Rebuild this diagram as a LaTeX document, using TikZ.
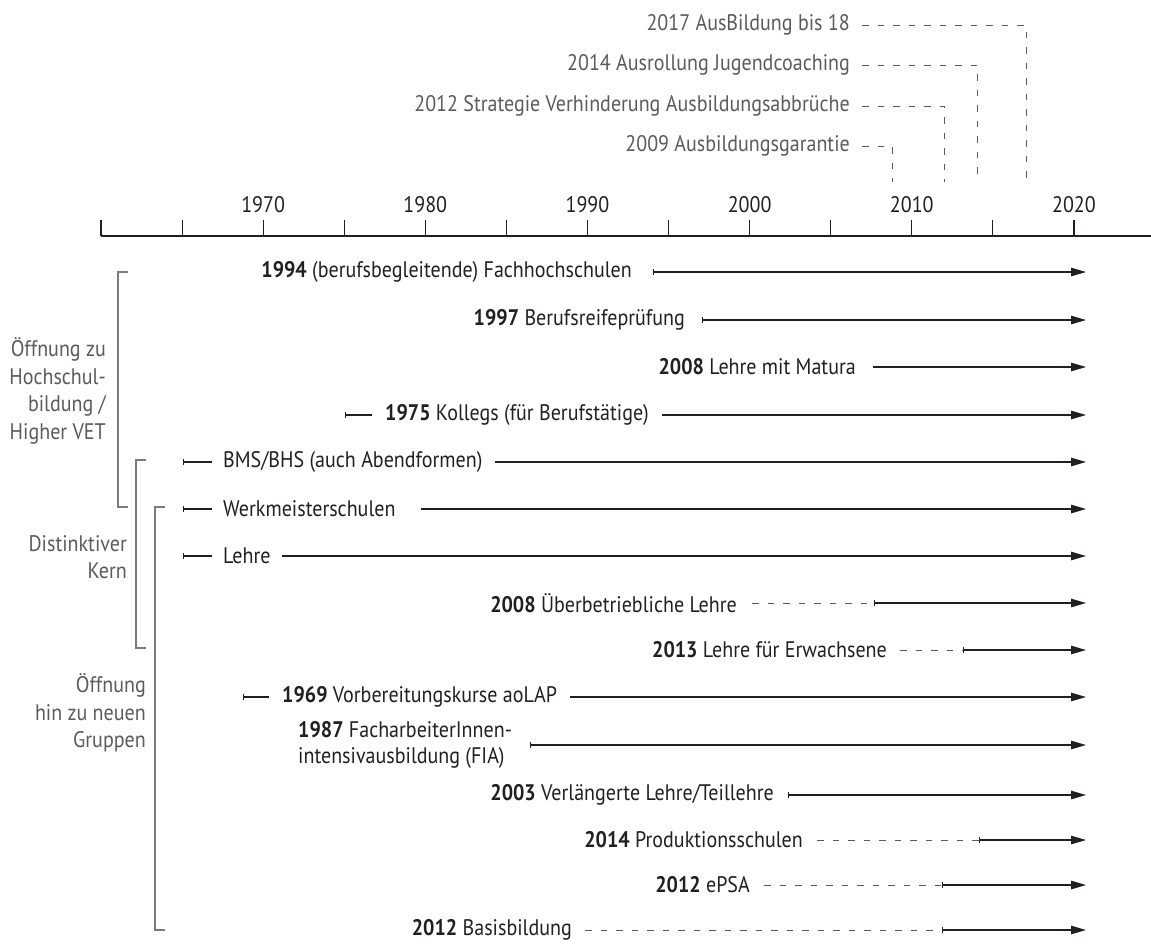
\documentclass[tikz,border=0pt]{standalone}
\usepackage{fontspec}
\setmainfont{PT Sans}[FakeStretch=0.89]
\usetikzlibrary{arrows.meta}
\definecolor{txt}{HTML}{231F20}
\definecolor{gry}{HTML}{5A5B5D}
\definecolor{brk}{HTML}{7A7B7D}
\begin{document}
\begin{tikzpicture}[x=1pt,y=-1pt,
  font=\fontsize{22.5}{26}\selectfont,
  lbl/.style={inner sep=0pt, text=txt},
  glbl/.style={inner sep=0pt, text=gry},
  blbl/.style={inner sep=0pt, text=gry, align=right, anchor=east, font=\fontsize{22.5}{27.5}\selectfont},
  ln/.style={line width=1.1pt, draw=txt},
  arr/.style={ln, -{Triangle[length=15pt,width=8.5pt]}},
  bararr/.style={ln, {Bar[width=6pt,line width=0.8pt]}-{Triangle[length=15pt,width=8.5pt]}},
  barln/.style={ln, {Bar[width=6pt,line width=0.8pt]}-},
  dsh/.style={line width=1pt, draw=gry, dash pattern=on 6.5pt off 9pt},
  brk/.style={line width=1.1pt, draw=brk}
]
\useasboundingbox (0,0) rectangle (1151,943);

% ---- axis ----
\coordinate (ax0) at (101,236);
\coordinate (ax1) at (1151,236);
\draw[ln] (ax0) -- (ax1);
\foreach \i in {0,...,12} {
  \draw[ln] (101+81.08*\i,220) -- (101+81.08*\i,236);
}
\foreach \yr/\k in {1970/2,1980/4,1990/6,2000/8,2010/10,2020/12} {
  \node[lbl] (yr\yr) at (101+81.08*\k,205) {\yr};
}

% ---- top policy labels ----
\node[glbl,anchor=east] (p17) at (850,25) {2017 AusBildung bis 18};
\node[glbl,anchor=east] (p14) at (850,65) {2014 Ausrollung Jugendcoaching};
\node[glbl,anchor=east] (p12) at (850,106) {2012 Strategie Verhinderung Ausbildungsabbrüche};
\node[glbl,anchor=east] (p09) at (850,146) {2009 Ausbildungsgarantie};
\coordinate (q17) at (1026,182);
\coordinate (q14) at (977,182);
\coordinate (q12) at (944,182);
\coordinate (q09) at (892,182);
\draw[dsh] ([xshift=12pt]p17.east) -| (q17);
\draw[dsh] ([xshift=12pt]p14.east) -| (q14);
\draw[dsh] ([xshift=12pt]p12.east) -| (q12);
\draw[dsh] ([xshift=12pt]p09.east) -| (q09);

% ---- arrow tips ----
\foreach \r/\yy in {1/272,2/320,3/367,4/415,5/462,6/509,7/556,8/603,9/650,10/697,11/745,12/795,13/840,14/885,15/930} {
  \coordinate (e\r) at (1086,\yy);
}

% row 1
\node[lbl,anchor=east] (n1) at (632,272) {\textbf{1994} (berufsbegleitende) Fachhochschulen};
\coordinate (s1) at (653,272);
\draw[bararr] (s1) -- (e1);
% row 2
\node[lbl,anchor=east] (n2) at (685,320) {\textbf{1997} Berufsreifeprüfung};
\coordinate (s2) at (702,320);
\draw[bararr] (s2) -- (e2);
% row 3
\node[lbl,anchor=east] (n3) at (856,367) {\textbf{2008} Lehre mit Matura};
\coordinate (s3) at (873,367);
\draw[arr] (s3) -- (e3);
% row 4
\coordinate (s4) at (345,415);
\node[lbl,anchor=east] (n4) at (649,415) {\textbf{1975} Kollegs (für Berufstätige)};
\draw[barln] (s4) -- ([xshift=-13pt]n4.west);
\draw[arr] ([xshift=13pt]n4.east) -- (e4);
% row 5
\coordinate (s5) at (183,462);
\node[lbl,anchor=west] (n5) at (223,462) {BMS/BHS (auch Abendformen)};
\draw[barln] (s5) -- ([xshift=-11pt]n5.west);
\draw[arr] ([xshift=12pt]n5.east) -- (e5);
% row 6
\coordinate (s6) at (183,509);
\node[lbl,anchor=west] (n6) at (223,509) {Werkmeisterschulen};
\draw[barln] (s6) -- ([xshift=-11pt]n6.west);
\draw[arr] ([xshift=25pt]n6.east) -- (e6);
% row 7
\coordinate (s7) at (183,556);
\node[lbl,anchor=west] (n7) at (223,556) {Lehre};
\draw[barln] (s7) -- ([xshift=-11pt]n7.west);
\draw[arr] ([xshift=11pt]n7.east) -- (e7);
% row 8
\node[lbl,anchor=east] (n8) at (737,603) {\textbf{2008} Überbetriebliche Lehre};
\coordinate (s8) at (874,603);
\draw[dsh] ([xshift=15pt]n8.east) -- (s8);
\draw[bararr] (s8) -- (e8);
% row 9
\node[lbl,anchor=east] (n9) at (887,650) {\textbf{2013} Lehre für Erwachsene};
\coordinate (s9) at (963,650);
\draw[dsh] ([xshift=13pt]n9.east) -- (s9);
\draw[bararr] (s9) -- (e9);
% row 10
\coordinate (s10) at (243,697);
\node[lbl,anchor=west] (n10) at (282,697) {\textbf{1969} Vorbereitungskurse aoLAP};
\draw[barln] (s10) -- ([xshift=-13pt]n10.west);
\draw[arr] ([xshift=13pt]n10.east) -- (e10);
% row 11
\node[lbl,anchor=west,align=left,font=\fontsize{22.5}{26.5}\selectfont] (n11) at (298,745) {\textbf{1987} FacharbeiterInnen-\\intensivausbildung (FIA)};
\coordinate (s11) at (530,745);
\draw[bararr] (s11) -- (e11);
% row 12
\node[lbl,anchor=east] (n12) at (774,795) {\textbf{2003} Verlängerte Lehre/Teillehre};
\coordinate (s12) at (788,795);
\draw[bararr] (s12) -- (e12);
% row 13
\node[lbl,anchor=east] (n13) at (803,840) {\textbf{2014} Produktionsschulen};
\coordinate (s13) at (979,840);
\draw[dsh] ([xshift=14pt]n13.east) -- (s13);
\draw[bararr] (s13) -- (e13);
% row 14
\node[lbl,anchor=east] (n14) at (750,885) {\textbf{2012} ePSA};
\coordinate (s14) at (942,885);
\draw[dsh] ([xshift=14pt]n14.east) -- (s14);
\draw[bararr] (s14) -- (e14);
% row 15
\node[lbl,anchor=east] (n15) at (572,930) {\textbf{2012} Basisbildung};
\coordinate (s15) at (942,930);
\draw[dsh] ([xshift=13pt]n15.east) -- (s15);
\draw[bararr] (s15) -- (e15);

% ---- brackets ----
\draw[brk] (128,272) -- (118,272) -- (118,507) -- (128,507);
\draw[brk] (146,460) -- (136,460) -- (136,648) -- (146,648);
\draw[brk] (165,507) -- (155,507) -- (155,930) -- (165,930);
\node[blbl] (g1) at (106,391) {Öffnung zu\\Hochschul-\\bildung /\\Higher VET};
\node[blbl] (g2) at (127,557) {Distinktiver\\Kern};
\node[blbl] (g3) at (146,713) {Öffnung\\hin zu neuen\\Gruppen};
\end{tikzpicture}
\end{document}
